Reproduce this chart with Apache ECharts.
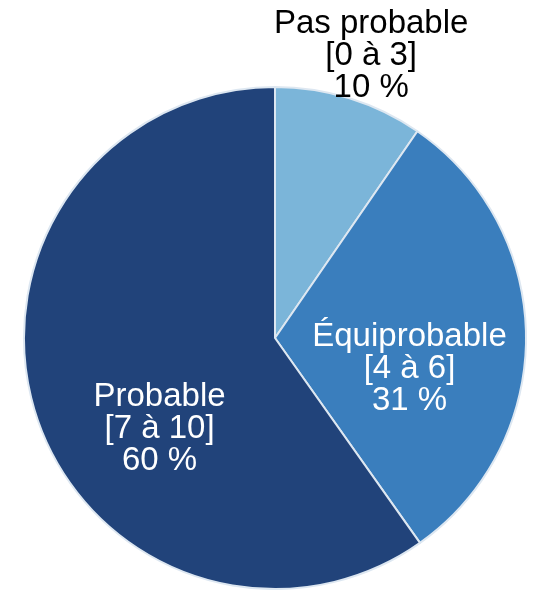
<!DOCTYPE html>
<html>
<head>
<meta charset="utf-8">
<script src="https://cdn.jsdelivr.net/npm/echarts@6/dist/echarts.min.js"></script>
<style>html,body{margin:0;padding:0;background:#fff}#c{width:541px;height:590px}</style>
</head>
<body>
<div id="c"></div>
<script>
const categories = ['Pas probable', 'Équiprobable', 'Probable'];
const ranges = ['[0 à 3]', '[4 à 6]', '[7 à 10]'];
const values = [9.6, 30.6, 59.8];
const percentLabels = ['10 %', '31 %', '60 %'];
const colors = ['#7bb5d9', '#3a7ebd', '#21437a'];
const labelColors = ['#000000', '#ffffff', '#ffffff'];
const labelOffsets = [[58, -159], [6, 32], [7, 52]];

const chart = echarts.init(document.getElementById('c'), null, {renderer: 'canvas'});
chart.setOption({
  animation: false,
  series: [{
    type: 'pie',
    center: [275, 338],
    radius: [0, 251],
    startAngle: 90,
    clockwise: true,
    silent: true,
    itemStyle: {borderColor: '#dde7f1', borderWidth: 2},
    labelLine: {show: false},
    label: {
      show: true,
      position: 'inside',
      fontFamily: 'Liberation Sans, Arial, sans-serif',
      fontSize: 33,
      lineHeight: 32,
      align: 'center'
    },
    data: categories.map((n, i) => ({
      name: n,
      value: values[i],
      itemStyle: {color: colors[i]},
      label: {
        color: labelColors[i],
        offset: labelOffsets[i],
        formatter: n + '\n' + ranges[i] + '\n' + percentLabels[i]
      }
    }))
  }]
});
</script>
</body>
</html>
